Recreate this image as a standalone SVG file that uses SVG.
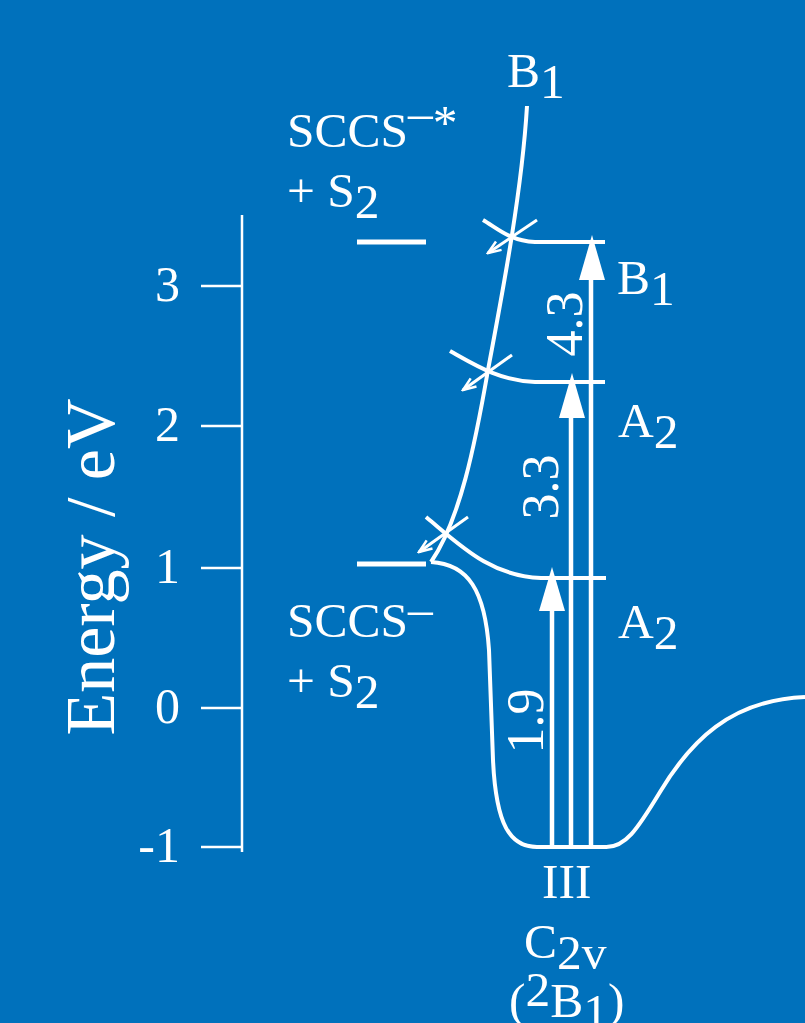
<svg xmlns="http://www.w3.org/2000/svg" width="805" height="1023" viewBox="0 0 805 1023">
<defs>
<style>
.t{font-family:"Liberation Serif","Times New Roman",serif;fill:#fff;font-size:49.5px}
.n{font-family:"Liberation Serif","Times New Roman",serif;fill:#fff;font-size:50px}
.ln{fill:none;stroke:#fff;stroke-width:4;stroke-linecap:butt}
.ax{fill:none;stroke:#fff;stroke-width:2.5}
.sm{fill:none;stroke:#fff;stroke-width:3}
.head{fill:#fff;stroke:none}
</style>
<marker id="open" viewBox="-14 -7 16 14" refX="0" refY="0" markerWidth="16" markerHeight="14" markerUnits="userSpaceOnUse" orient="auto">
<path d="M-13,-5 L0,0 L-13,5" fill="none" stroke="#fff" stroke-width="2.5"/>
</marker>
</defs>
<rect x="0" y="0" width="805" height="1023" fill="#0071bc"/>

<g id="axis">
<line class="ax" x1="242" y1="215" x2="242" y2="852"/>
<line class="ax" x1="201" y1="286" x2="243" y2="286"/>
<line class="ax" x1="201" y1="426" x2="243" y2="426"/>
<line class="ax" x1="201" y1="568" x2="243" y2="568"/>
<line class="ax" x1="201" y1="708" x2="243" y2="708"/>
<line class="ax" x1="201" y1="847" x2="243" y2="847"/>
<text class="n" x="180" y="301" text-anchor="end">3</text>
<text class="n" x="180" y="441" text-anchor="end">2</text>
<text class="n" x="180" y="583" text-anchor="end">1</text>
<text class="n" x="180" y="723" text-anchor="end">0</text>
<text class="n" x="180" y="862" text-anchor="end">-1</text>
<text class="t" style="font-size:70px" transform="translate(114,567) rotate(-90)" text-anchor="middle">Energy / eV</text>
</g>

<g id="asymptote-upper">
<line class="ln" x1="357" y1="242" x2="426" y2="242" style="stroke-width:5"/>
<text class="t" x="287" y="147">SCCS<tspan dy="-18">–</tspan><tspan dy="10">*</tspan></text>
<text class="t" x="287" y="207">+ S<tspan dy="11">2</tspan></text>
</g>

<g id="asymptote-lower">
<line class="ln" x1="357" y1="564" x2="426" y2="564" style="stroke-width:5"/>
<text class="t" x="287" y="637">SCCS<tspan dy="-12">–</tspan></text>
<text class="t" x="287" y="697">+ S<tspan dy="11">2</tspan></text>
</g>

<g id="connectors">
<path class="ln" d="M527,106 C522,190 503,290 488,370 C475,445 460,520 431,562"/>
<path class="ln" d="M431,562 C468,564 485,590 489,650 L493,760 C496,825 510,847 537,847 L605,847 C625,848 637,830 660,792 C690,742 730,700 805,697"/>
<path class="ln" d="M483,220 C497,228 510,241 535,242 L605,242"/>
<path class="ln" d="M450,351 C475,365 500,381 535,382 L605,382"/>
<path class="ln" d="M426,517 C460,545 490,576 541,578 L606,578"/>
<line class="sm" x1="537" y1="220" x2="488" y2="253" marker-end="url(#open)"/>
<line class="sm" x1="512" y1="355" x2="463" y2="390" marker-end="url(#open)"/>
<line class="sm" x1="468" y1="517" x2="419" y2="552" marker-end="url(#open)"/>
<line class="ln" x1="552" y1="847" x2="552" y2="600" style="stroke-width:4.5"/>
<polygon class="head" points="552,567 539,611 565,611"/>
<line class="ln" x1="571" y1="847" x2="571" y2="400" style="stroke-width:4.5"/>
<polygon class="head" points="572,373 559,418 585,418"/>
<line class="ln" x1="591" y1="847" x2="591" y2="260" style="stroke-width:4.5"/>
<polygon class="head" points="592,235 579,280 605,280"/>
<text class="n" style="font-size:52px" transform="translate(582,324) rotate(-90)" text-anchor="middle">4.3</text>
<text class="n" style="font-size:52px" transform="translate(558,487) rotate(-90)" text-anchor="middle">3.3</text>
<text class="n" style="font-size:52px" transform="translate(543,721) rotate(-90)" text-anchor="middle">1.9</text>
</g>

<g id="label-B1-top">
<text class="t" x="507" y="87">B<tspan dy="11">1</tspan></text>
</g>
<g id="label-B1">
<text class="t" x="617" y="294">B<tspan dy="11">1</tspan></text>
</g>
<g id="label-A2-upper">
<text class="t" x="618" y="437">A<tspan dy="11">2</tspan></text>
</g>
<g id="label-A2-lower">
<text class="t" x="618" y="638">A<tspan dy="11">2</tspan></text>
</g>
<g id="label-III">
<text class="t" x="542" y="898">III</text>
<text class="t" x="524" y="958">C<tspan dy="11">2v</tspan></text>
<text class="t" x="509" y="1017">(<tspan dy="-11">2</tspan><tspan dy="11">B</tspan><tspan dy="11">1</tspan><tspan dy="-11">)</tspan></text>
</g>
</svg>
